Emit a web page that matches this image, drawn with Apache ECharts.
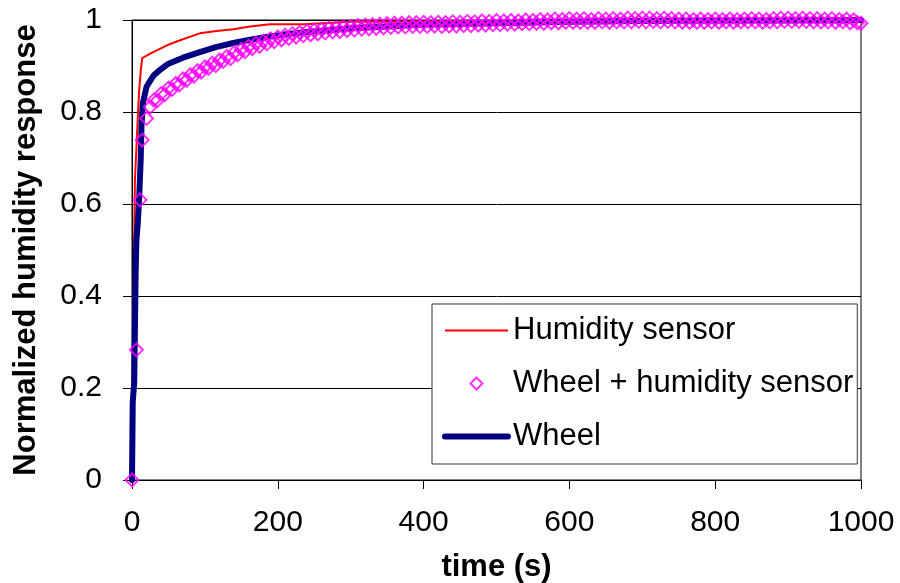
<!DOCTYPE html>
<html>
<head>
<meta charset="utf-8">
<script src="https://cdn.jsdelivr.net/npm/echarts@6/dist/echarts.min.js"></script>
<style>html,body{margin:0;padding:0;background:#fff}#c{width:900px;height:583px}</style>
</head>
<body>
<div id="c"></div>
<script>
// Humidity sensor (red line)
var sensorT = [0, 1, 2, 3, 4, 6, 8, 10, 12, 14, 25, 48, 66, 93, 116, 139, 162, 189, 236, 237, 300, 400, 500, 700, 1000];
var sensorV = [0, 0.15, 0.35, 0.52, 0.65, 0.72, 0.79, 0.85, 0.89, 0.917, 0.927, 0.945, 0.956, 0.971, 0.976, 0.980, 0.986, 0.991, 0.991, 0.995, 0.996, 0.997, 0.998, 0.999, 1.0];

// Wheel (thick navy line)
var wheelT = [0, 1, 3, 4, 5, 6, 8, 10, 12, 13, 15, 20, 25, 30, 38, 50, 70, 93, 115, 139, 162, 185, 212, 240, 270, 300, 350, 400, 500, 600, 700, 800, 900, 1000];
var wheelV = [0, 0.17, 0.21, 0.33, 0.45, 0.52, 0.56, 0.62, 0.70, 0.77, 0.82, 0.855, 0.868, 0.88, 0.891, 0.905, 0.918, 0.93, 0.941, 0.95, 0.957, 0.963, 0.969, 0.974, 0.978, 0.982, 0.986, 0.99, 0.993, 0.996, 0.998, 0.999, 0.999, 1.0];

// Wheel + humidity sensor (magenta diamonds)
var comboT = [0, 6, 11, 14, 20, 25,
  30, 35, 40, 45, 50, 55, 60, 65, 70, 75, 80, 85, 90, 95, 100, 105, 110, 115, 120, 125, 130, 135, 140, 145,
  150, 155, 160, 165, 170, 175, 180, 185, 190, 195, 200, 205, 210, 215, 220, 225, 230, 235, 240, 245,
  250, 255, 260, 265, 270, 275, 280, 285, 290, 295, 300, 305, 310, 315, 320, 325, 330, 335, 340, 345,
  350, 355, 360, 365, 370, 375, 380, 385, 390, 395, 400, 405, 410, 415, 420, 425, 430, 435, 440, 445,
  450, 455, 460, 465, 470, 475, 480, 485, 490, 495, 500, 505, 510, 515, 520, 525, 530, 535, 540, 545,
  550, 555, 560, 565, 570, 575, 580, 585, 590, 595, 600, 605, 610, 615, 620, 625, 630, 635, 640, 645,
  650, 655, 660, 665, 670, 675, 680, 685, 690, 695, 700, 705, 710, 715, 720, 725, 730, 735, 740, 745,
  750, 755, 760, 765, 770, 775, 780, 785, 790, 795, 800, 805, 810, 815, 820, 825, 830, 835, 840, 845,
  850, 855, 860, 865, 870, 875, 880, 885, 890, 895, 900, 905, 910, 915, 920, 925, 930, 935, 940, 945,
  950, 955, 960, 965, 970, 975, 980, 985, 990, 995, 1000];
var comboV = [0, 0.283, 0.609, 0.739, 0.786, 0.811,
  0.826, 0.825, 0.840, 0.838, 0.852, 0.849, 0.862, 0.859, 0.872, 0.869, 0.881, 0.878, 0.890, 0.887, 0.898, 0.895, 0.906, 0.901, 0.913, 0.910, 0.921, 0.916, 0.929, 0.924,
  0.936, 0.931, 0.943, 0.938, 0.949, 0.943, 0.954, 0.948, 0.959, 0.953, 0.963, 0.957, 0.967, 0.960, 0.970, 0.963, 0.973, 0.966, 0.976, 0.968,
  0.978, 0.970, 0.980, 0.972, 0.982, 0.974, 0.983, 0.975, 0.985, 0.977, 0.986, 0.978, 0.988, 0.980, 0.989, 0.981, 0.990, 0.982, 0.991, 0.983,
  0.992, 0.984, 0.993, 0.985, 0.993, 0.985, 0.994, 0.986, 0.994, 0.986, 0.995, 0.986, 0.994, 0.987, 0.995, 0.986, 0.994, 0.987, 0.996, 0.987,
  0.995, 0.988, 0.997, 0.988, 0.996, 0.989, 0.998, 0.989, 0.997, 0.990, 0.999, 0.990, 0.998, 0.991, 0.999, 0.991, 0.998, 0.992, 1.000, 0.992,
  0.999, 0.993, 1.001, 0.993, 1.000, 0.994, 1.002, 0.994, 1.001, 0.995, 1.003, 0.995, 1.002, 0.995, 1.003, 0.995, 1.001, 0.995, 1.003, 0.996,
  1.002, 0.995, 1.003, 0.996, 1.002, 0.996, 1.004, 0.996, 1.003, 0.997, 1.004, 0.996, 1.004, 0.997, 1.003, 0.996, 1.004, 0.997, 1.003, 0.996,
  1.002, 0.995, 1.002, 0.995, 1.001, 0.995, 1.002, 0.995, 1.001, 0.996, 1.002, 0.995, 1.001, 0.996, 1.002, 0.995, 1.001, 0.996, 1.002, 0.996,
  1.003, 0.996, 1.002, 0.995, 1.001, 0.996, 1.003, 0.996, 1.004, 0.997, 1.004, 0.997, 1.003, 0.997, 1.004, 0.997, 1.003, 0.996, 1.003, 0.996,
  1.002, 0.996, 1.003, 0.995, 1.001, 0.996, 1.002, 0.994, 1.000, 0.994, 0.993];

// Axis ticks
var xTicks = [0, 200, 400, 600, 800, 1000];
var yTicks = [0, 0.2, 0.4, 0.6, 0.8, 1];

function pairs(t, v) { return t.map(function (x, i) { return [x, v[i]]; }); }

var FONT = "'Liberation Sans', Arial, sans-serif";
var chart = echarts.init(document.getElementById('c'), null, { renderer: 'canvas' });
chart.setOption({
  animation: false,
  backgroundColor: '#fff',
  grid: { left: 132, right: 39, top: 20, bottom: 103, containLabel: false, outerBoundsMode: 'none',
    show: true, borderColor: '#000', borderWidth: 1, backgroundColor: 'transparent' },
  xAxis: {
    type: 'value', min: xTicks[0], max: xTicks[xTicks.length - 1], interval: 200,
    name: 'time (s)', nameLocation: 'middle', nameGap: 72,
    nameTextStyle: { fontFamily: FONT, fontSize: 31, fontWeight: 'bold', color: '#000' },
    axisLine: { lineStyle: { color: '#000', width: 1 } },
    axisTick: { show: true, inside: false, length: 9, lineStyle: { color: '#000' } },
    axisLabel: { fontFamily: FONT, fontSize: 30, color: '#000', margin: 28, formatter: function (v) { return String(v); } },
    splitLine: { show: false }
  },
  yAxis: {
    type: 'value', min: yTicks[0], max: yTicks[yTicks.length - 1], interval: 0.2,
    name: 'Normalized humidity response', nameLocation: 'middle', nameGap: 90,
    nameTextStyle: { fontFamily: FONT, fontSize: 31, fontWeight: 'bold', color: '#000' },
    axisLine: { show: true, lineStyle: { color: '#000', width: 1 } },
    axisTick: { show: true, inside: false, length: 9, lineStyle: { color: '#000' } },
    axisLabel: { fontFamily: FONT, fontSize: 30, color: '#000', margin: 30 },
    splitLine: { show: true, lineStyle: { color: '#000', width: 1 } }
  },
  legend: {
    orient: 'vertical', left: 432, top: 304,
    padding: [11, 4, 12, 10],
    itemGap: 22, itemWidth: 63, itemHeight: 12, symbolKeepAspect: true,
    backgroundColor: '#fff', borderColor: '#333', borderWidth: 1,
    textStyle: { fontFamily: FONT, fontSize: 31, color: '#000', width: 338 },
    data: [
      { name: 'Humidity sensor', itemStyle: { opacity: 0 }, lineStyle: { width: 2 } },
      { name: 'Wheel + humidity sensor', icon: 'path://M6,0L12,6L6,12L0,6Z',
        itemStyle: { color: 'rgba(0,0,0,0)', borderColor: '#FF00FF', borderWidth: 2 } },
      { name: 'Wheel', itemStyle: { opacity: 0 }, lineStyle: { width: 6, cap: 'round' } }
    ]
  },
  series: [
    {
      name: 'Humidity sensor', type: 'line', symbol: 'none', z: 2,
      lineStyle: { color: '#FF0000', width: 2 }, itemStyle: { color: '#FF0000' },
      data: pairs(sensorT, sensorV)
    },
    {
      name: 'Wheel', type: 'line', symbol: 'none', z: 3,
      lineStyle: { color: '#000080', width: 6, cap: 'round', join: 'round' }, itemStyle: { color: '#000080' },
      data: pairs(wheelT, wheelV)
    },
    {
      name: 'Wheel + humidity sensor', type: 'scatter', symbol: 'diamond', symbolSize: [13, 13], z: 4, clip: false,
      itemStyle: { color: 'rgba(0,0,0,0)', borderColor: '#FF00FF', borderWidth: 2 },
      data: pairs(comboT, comboV)
    }
  ]
});
</script>
</body>
</html>
